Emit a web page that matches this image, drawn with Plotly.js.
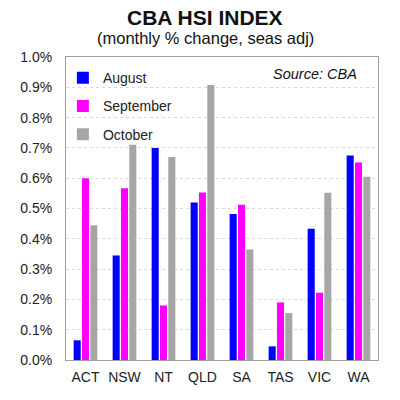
<!DOCTYPE html>
<html>
<head>
<meta charset="utf-8">
<script src="https://cdn.plot.ly/plotly-3.0.1.min.js"></script>
<style>
  html, body { margin: 0; padding: 0; background: #fff; }
  #graph { width: 400px; height: 400px; }
</style>
</head>
<body>
<div id="graph"></div>
<script>
// states along the x axis
var states = ['ACT', 'NSW', 'NT', 'QLD', 'SA', 'TAS', 'VIC', 'WA'];

// monthly % change
var august    = [0.065, 0.345, 0.70, 0.52, 0.482, 0.045, 0.433, 0.675];
var september = [0.60, 0.567, 0.18, 0.553, 0.512, 0.19, 0.222, 0.652];
var october   = [0.445, 0.71, 0.67, 0.908, 0.365, 0.155, 0.552, 0.605];

var yTicks = [0, 0.1, 0.2, 0.3, 0.4, 0.5, 0.6, 0.7, 0.8, 0.9, 1.0];
var yTickText = ['0.0%', '0.1%', '0.2%', '0.3%', '0.4%', '0.5%', '0.6%', '0.7%', '0.8%', '0.9%', '1.0%'];

var fontFamily = 'Liberation Sans, Arial, sans-serif';

function barTrace(name, values, color) {
    return {
        type: 'bar',
        name: name,
        legendgroup: name,
        x: states,
        y: values,
        marker: { color: color, line: { width: 0 } },
        hoverinfo: 'skip'
    };
}

var data = [
    barTrace('August', august, '#0000ff'),
    barTrace('September', september, '#ff00ff'),
    barTrace('October', october, '#a6a6a6')
];

var layout = {
    width: 400,
    height: 400,
    paper_bgcolor: '#ffffff',
    plot_bgcolor: '#ffffff',
    font: { family: fontFamily, size: 14, color: '#222' },
    margin: { l: 66, r: 22, t: 57, b: 40 },
    barmode: 'group',
    bargap: 0.36,
    bargroupgap: 0.15,
    showlegend: true,
    legend: {
        x: -0.01,
        xanchor: 'left',
        y: 0.983,
        yanchor: 'top',
        bgcolor: 'rgba(0,0,0,0)',
        font: { size: 14, color: '#222' },
        tracegroupgap: 7,
        itemwidth: 30
    },
    xaxis: {
        type: 'category',
        showgrid: false,
        showline: true,
        linecolor: '#a0a0a0',
        linewidth: 1,
        mirror: true,
        ticks: '',
        ticklabelstandoff: 4,
        tickfont: { size: 14, color: '#222' }
    },
    yaxis: {
        range: [0, 1.0],
        autorange: false,
        tickvals: yTicks,
        ticktext: yTickText,
        showgrid: true,
        gridcolor: '#d9d9d9',
        griddash: 'dot',
        gridwidth: 1,
        zeroline: false,
        showline: true,
        linecolor: '#a0a0a0',
        linewidth: 1,
        mirror: true,
        ticks: '',
        ticklabelstandoff: 10,
        tickfont: { size: 14, color: '#222' }
    },
    annotations: [
        {
            text: '<b>CBA HSI INDEX</b>',
            xref: 'paper', yref: 'paper',
            x: 0.446, y: 1.0, yshift: 40,
            xanchor: 'center', yanchor: 'middle',
            showarrow: false,
            font: { size: 21, color: '#111' }
        },
        {
            text: '(monthly % change, seas adj)',
            xref: 'paper', yref: 'paper',
            x: 0.446, y: 1.0, yshift: 19,
            xanchor: 'center', yanchor: 'middle',
            showarrow: false,
            font: { size: 16.5, color: '#111' }
        },
        {
            text: '<i>Source: CBA</i>',
            xref: 'paper', yref: 'paper',
            x: 0.94, y: 0.945,
            xanchor: 'right', yanchor: 'middle',
            showarrow: false,
            font: { size: 14.5, color: '#111' }
        }
    ]
};

var graph = document.getElementById('graph');
Plotly.newPlot(graph, data, layout, { staticPlot: true });
</script>
</body>
</html>
